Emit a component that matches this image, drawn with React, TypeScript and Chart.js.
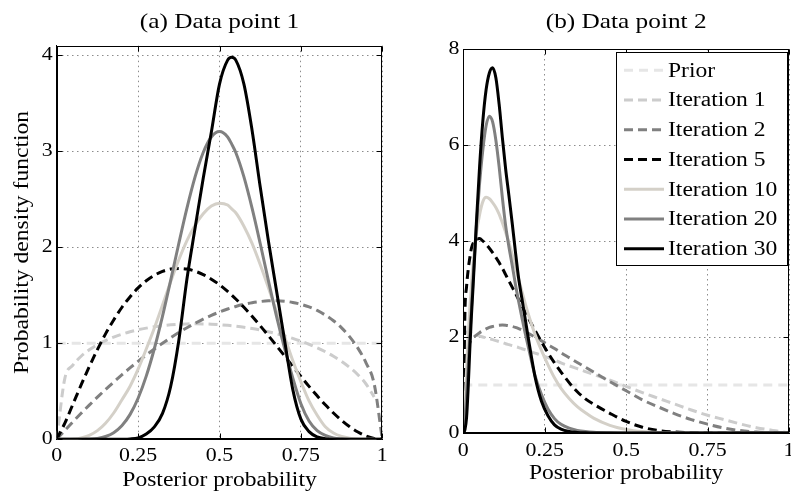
import React, { useEffect, useRef } from 'react';
import { Chart, registerables } from 'chart.js';

Chart.register(...registerables);

const FONT = "'Liberation Serif', 'Times New Roman', Times, serif";
const TEXT_STRETCH = 1.15;

// ---------------- data ----------------
const seriesNames = ['Prior', 'Iteration 1', 'Iteration 2', 'Iteration 5', 'Iteration 10', 'Iteration 20', 'Iteration 30'];
const seriesColors = ['#e6e6e6', '#cccccc', '#808080', '#000000', '#d4d0c8', '#808080', '#000000'];
const seriesDashed = [true, true, true, true, false, false, false];

const xTicks = [0, 0.25, 0.5, 0.75, 1];
const yTicksA = [0, 1, 2, 3, 4];
const yTicksB = [0, 2, 4, 6, 8];
const yMaxA = 4.1;
const yMaxB = 8;

// (a) Data point 1
const xA = [0, 0.025, 0.05, 0.075, 0.1, 0.125, 0.15, 0.175, 0.2, 0.225, 0.25, 0.275, 0.3, 0.325, 0.35, 0.375, 0.4, 0.425, 0.45, 0.475, 0.5, 0.525, 0.5375, 0.55, 0.575, 0.6, 0.625, 0.65, 0.675, 0.7, 0.725, 0.75, 0.775, 0.8, 0.825, 0.85, 0.875, 0.9, 0.925, 0.95, 0.975, 1];
const priorA = [1, 1, 1, 1, 1, 1, 1, 1, 1, 1, 1, 1, 1, 1, 1, 1, 1, 1, 1, 1, 1, 1, 1, 1, 1, 1, 1, 1, 1, 1, 1, 1, 1, 1, 1, 1, 1, 1, 1, 1, 1, 1];
const it1A = [0, 0.635, 0.774, 0.865, 0.932, 0.986, 1.029, 1.065, 1.095, 1.12, 1.141, 1.158, 1.172, 1.184, 1.192, 1.198, 1.202, 1.203, 1.202, 1.199, 1.194, 1.187, 1.183, 1.178, 1.167, 1.154, 1.138, 1.12, 1.1, 1.077, 1.051, 1.022, 0.99, 0.953, 0.912, 0.865, 0.811, 0.748, 0.673, 0.576, 0.44, null];
const it2A = [0, 0.093, 0.183, 0.271, 0.356, 0.439, 0.519, 0.596, 0.671, 0.743, 0.812, 0.878, 0.941, 1.001, 1.058, 1.112, 1.162, 1.209, 1.252, 1.291, 1.326, 1.357, 1.371, 1.384, 1.406, 1.423, 1.435, 1.442, 1.443, 1.438, 1.426, 1.406, 1.379, 1.342, 1.294, 1.235, 1.16, 1.067, 0.95, 0.797, 0.578, 0];
const it5A = [0, 0.168, 0.367, 0.566, 0.756, 0.934, 1.098, 1.243, 1.373, 1.483, 1.577, 1.652, 1.709, 1.749, 1.773, 1.78, 1.773, 1.751, 1.716, 1.668, 1.61, 1.54, 1.502, 1.462, 1.375, 1.282, 1.183, 1.08, 0.975, 0.868, 0.76, 0.654, 0.551, 0.453, 0.359, 0.274, 0.197, 0.13, 0.076, 0.035, 0.009, 0];
const it10A = [0, 0.0002, 0.003, 0.015, 0.041, 0.09, 0.167, 0.274, 0.41, 0.55, 0.73, 0.94, 1.16, 1.4, 1.64, 1.87, 2.07, 2.23, 2.35, 2.43, 2.46, 2.44, 2.4, 2.36, 2.22, 2.04, 1.82, 1.58, 1.33, 1.07, 0.82, 0.6, 0.4, 0.25, 0.13, 0.065, 0.03, 0.012, 0.004, 0.001, 0, 0];
const it20A = [0, 0, 0, 0.0004, 0.0025, 0.0098, 0.029, 0.069, 0.141, 0.257, 0.428, 0.658, 0.946, 1.284, 1.656, 2.04, 2.408, 2.733, 2.987, 3.149, 3.205, 3.149, 3.075, 2.987, 2.733, 2.408, 2.04, 1.656, 1.284, 0.946, 0.64, 0.37, 0.19, 0.09, 0.04, 0.015, 0.005, 0.001, 0, 0, 0, 0];
const it30A = [0, 0, 0, 0, 0, 0, 0, 0, 0.001, 0.004, 0.015, 0.055, 0.13, 0.27, 0.55, 1.03, 1.67, 2.2, 2.72, 3.2, 3.7, 3.95, 3.98, 3.95, 3.7, 3.22, 2.63, 2.07, 1.55, 1.03, 0.52, 0.21, 0.08, 0.025, 0.006, 0, 0, 0, 0, 0, 0, 0];

// (b) Data point 2
const xB = [0, 0.005, 0.01, 0.015, 0.02, 0.025, 0.03, 0.04, 0.05, 0.06, 0.07, 0.08, 0.09, 0.1, 0.11, 0.12, 0.13, 0.14, 0.15, 0.16, 0.17, 0.18, 0.19, 0.2, 0.22, 0.24, 0.26, 0.28, 0.3, 0.325, 0.35, 0.375, 0.4, 0.45, 0.5, 0.55, 0.6, 0.65, 0.7, 0.75, 0.8, 0.85, 0.9, 0.95, 1];
const priorB = [1, 1, 1, 1, 1, 1, 1, 1, 1, 1, 1, 1, 1, 1, 1, 1, 1, 1, 1, 1, 1, 1, 1, 1, 1, 1, 1, 1, 1, 1, 1, 1, 1, 1, 1, 1, 1, 1, 1, 1, 1, 1, 1, 1, 1];
const it1B = [2.12, 2.11, 2.1, 2.09, 2.08, 2.07, 2.06, 2.04, 2.02, 2.0, 1.985, 1.965, 1.945, 1.925, 1.905, 1.885, 1.86, 1.84, 1.82, 1.8, 1.78, 1.755, 1.735, 1.71, 1.665, 1.62, 1.57, 1.52, 1.46, 1.4, 1.34, 1.28, 1.22, 1.1, 0.97, 0.84, 0.72, 0.6, 0.48, 0.37, 0.28, 0.19, 0.11, 0.055, 0];
const it2B = [0, 1.35, 1.62, 1.78, 1.88, 1.94, 1.98, 2.04, 2.09, 2.13, 2.17, 2.2, 2.22, 2.235, 2.245, 2.25, 2.245, 2.235, 2.22, 2.2, 2.175, 2.145, 2.11, 2.075, 2.0, 1.92, 1.84, 1.76, 1.67, 1.57, 1.47, 1.37, 1.27, 1.07, 0.88, 0.69, 0.54, 0.4, 0.28, 0.185, 0.105, 0.05, 0.02, 0.005, 0];
const it5B = [0, 2.5, 3.05, 3.4, 3.65, 3.85, 3.95, 4.04, 4.05, 4.0, 3.93, 3.85, 3.76, 3.66, 3.55, 3.43, 3.3, 3.17, 3.04, 2.91, 2.78, 2.65, 2.52, 2.39, 2.14, 1.9, 1.67, 1.46, 1.27, 1.05, 0.86, 0.71, 0.6, 0.41, 0.24, 0.12, 0.05, 0.02, 0.005, 0, 0, 0, 0, 0, 0];
const it10B = [0, 0.6, 1.3, 2.0, 2.6, 3.1, 3.5, 4.15, 4.55, 4.82, 4.91, 4.88, 4.8, 4.7, 4.56, 4.38, 4.18, 3.97, 3.72, 3.46, 3.2, 2.95, 2.7, 2.47, 2.06, 1.72, 1.42, 1.15, 0.93, 0.72, 0.55, 0.42, 0.31, 0.16, 0.075, 0.03, 0.01, 0.003, 0, 0, 0, 0, 0, 0, 0];
const it20B = [0, 0.3, 0.8, 1.4, 2.0, 2.6, 3.2, 4.3, 5.2, 5.9, 6.4, 6.6, 6.48, 6.1, 5.55, 4.9, 4.32, 3.88, 3.5, 3.1, 2.74, 2.4, 2.08, 1.78, 1.2, 0.8, 0.5, 0.3, 0.18, 0.1, 0.055, 0.03, 0.015, 0.004, 0, 0, 0, 0, 0, 0, 0, 0, 0, 0, 0];
const it30B = [0, 0.07, 0.32, 0.95, 1.75, 2.45, 3.05, 4.35, 5.55, 6.5, 7.15, 7.5, 7.61, 7.4, 6.85, 6.15, 5.5, 4.95, 4.38, 3.78, 3.22, 2.8, 2.38, 1.96, 1.18, 0.66, 0.36, 0.17, 0.08, 0.03, 0.012, 0.004, 0, 0, 0, 0, 0, 0, 0, 0, 0, 0, 0, 0, 0];

// ---------------- helpers ----------------
function stretchText(ctx: any, sx: number) {
  if (ctx.__stretched) return;
  ctx.__stretched = true;
  const orig = ctx.fillText;
  ctx.fillText = function (text: string, x: number, y: number, maxWidth?: number) {
    this.save();
    this.translate(x, y);
    this.scale(sx, 1);
    if (maxWidth === undefined || maxWidth === null) orig.call(this, text, 0, 0);
    else orig.call(this, text, 0, 0, maxWidth / sx);
    this.restore();
  };
}

function buildDatasets(xs: number[], ys: (number | null)[][]) {
  return seriesNames.map((name, i) => ({
    label: name,
    data: xs.map((x, j) => ({ x, y: ys[i][j] })),
    borderColor: seriesColors[i],
    backgroundColor: seriesColors[i],
    borderWidth: 3,
    borderDash: seriesDashed[i] ? (i === 0 ? [9, 6] : [9, 5]) : [],
    pointRadius: 0,
    fill: false,
    spanGaps: false,
    cubicInterpolationMode: 'monotone',
    order: seriesNames.length - 1 - i,
  }));
}

const boxPlugin = {
  id: 'matlabBox',
  afterDatasetsDraw(chart: any) {
    const { ctx, chartArea, scales } = chart;
    const L = Math.round(chartArea.left) + 0.5;
    const R = Math.round(chartArea.right) - 0.5;
    const T = Math.round(chartArea.top) + 0.5;
    const B = Math.round(chartArea.bottom) - 0.5;
    const tl = 5;
    ctx.save();
    ctx.setLineDash([]);
    ctx.strokeStyle = '#000';
    ctx.lineWidth = 1;
    ctx.strokeRect(L, T, R - L, B - T);
    ctx.beginPath();
    scales.x.ticks.forEach((t: any) => {
      const px = Math.round(scales.x.getPixelForValue(t.value)) + 0.5;
      ctx.moveTo(px, B); ctx.lineTo(px, B - tl);
      ctx.moveTo(px, T); ctx.lineTo(px, T + tl);
    });
    scales.y.ticks.forEach((t: any) => {
      const py = Math.round(scales.y.getPixelForValue(t.value)) + 0.5;
      ctx.moveTo(L, py); ctx.lineTo(L + tl, py);
      ctx.moveTo(R, py); ctx.lineTo(R - tl, py);
    });
    ctx.stroke();
    ctx.restore();
  },
};

const insideLegendPlugin = {
  id: 'insideLegend',
  afterDraw(chart: any, _args: any, opts: any) {
    if (!opts || !opts.show) return;
    const { ctx } = chart;
    ctx.save();
    ctx.setLineDash([]);
    ctx.fillStyle = '#ffffff';
    ctx.fillRect(opts.x, opts.y, opts.w, opts.h);
    ctx.strokeStyle = '#000';
    ctx.lineWidth = 1;
    ctx.strokeRect(Math.round(opts.x) + 0.5, Math.round(opts.y) + 0.5, Math.round(opts.w), Math.round(opts.h));
    chart.data.datasets.forEach((ds: any, i: number) => {
      const cy = opts.firstY + i * opts.stepY;
      ctx.beginPath();
      ctx.setLineDash(ds.borderDash || []);
      ctx.strokeStyle = ds.borderColor;
      ctx.lineWidth = ds.borderWidth;
      ctx.moveTo(opts.lineX0, cy);
      ctx.lineTo(opts.lineX1, cy);
      ctx.stroke();
      ctx.setLineDash([]);
      ctx.fillStyle = '#000';
      ctx.font = `${opts.fontSize}px ${FONT}`;
      ctx.textAlign = 'left';
      ctx.textBaseline = 'middle';
      ctx.fillText(ds.label, opts.textX, cy + 1);
    });
    ctx.restore();
  },
};

interface PanelSpec {
  title: string;
  xs: number[];
  ys: (number | null)[][];
  yMax: number;
  yTicks: number[];
  yTitle: string | null;
  padRight: number;
  yAxisWidth: number;
  xAxisHeight: number;
  titlePadBottom: number;
  xTickPad: number;
  xTitlePadBottom: number;
  legend: any;
}

function makeConfig(p: PanelSpec): any {
  const tickFont = { family: FONT, size: 19, lineHeight: 1.2 };
  const labelFont = { family: FONT, size: 20.5, lineHeight: 1.2 };
  const grid = { color: '#8c8c8c', lineWidth: 1, drawTicks: false, drawOnChartArea: true };
  const border = { display: true, color: '#000', width: 1, dash: [1.5, 3.5] };
  return {
    type: 'line',
    data: { datasets: buildDatasets(p.xs, p.ys) },
    plugins: [boxPlugin, insideLegendPlugin],
    options: {
      responsive: false,
      animation: false,
      devicePixelRatio: 1,
      events: [],
      layout: { padding: { left: 0, right: p.padRight, top: 0, bottom: 0 } },
      elements: { point: { radius: 0 } },
      plugins: {
        legend: { display: false },
        tooltip: { enabled: false },
        title: {
          display: true,
          text: p.title,
          fullSize: false,
          color: '#000',
          font: { family: FONT, size: 22, weight: 'normal', lineHeight: 1.2 },
          padding: { top: 9.2, bottom: p.titlePadBottom },
        },
        insideLegend: p.legend,
      },
      scales: {
        x: {
          type: 'linear',
          min: 0,
          max: 1,
          afterBuildTicks: (s: any) => { s.ticks = xTicks.map((v) => ({ value: v })); },
          afterFit: (s: any) => { s.height = p.xAxisHeight; s.paddingLeft = 0; s.paddingRight = 0; },
          grid,
          border,
          ticks: {
            padding: p.xTickPad,
            font: tickFont,
            color: '#000',
            autoSkip: false,
            maxRotation: 0,
            minRotation: 0,
            callback: (v: any) => String(v),
          },
          title: {
            display: true,
            text: 'Posterior probability',
            color: '#000',
            font: labelFont,
            padding: { top: 0, bottom: p.xTitlePadBottom },
          },
        },
        y: {
          type: 'linear',
          min: 0,
          max: p.yMax,
          afterBuildTicks: (s: any) => { s.ticks = p.yTicks.map((v) => ({ value: v })); },
          afterFit: (s: any) => { s.width = p.yAxisWidth; },
          grid,
          border,
          ticks: {
            padding: 4,
            font: tickFont,
            color: '#000',
            callback: (v: any) => String(v),
          },
          title: {
            display: !!p.yTitle,
            text: p.yTitle || '',
            color: '#000',
            font: labelFont,
            padding: { top: 10.7, bottom: 0 },
          },
        },
      },
    },
  };
}

const panelA: PanelSpec = {
  title: '(a) Data point 1',
  xs: xA,
  ys: [priorA, it1A, it2A, it5A, it10A, it20A, it30A],
  yMax: yMaxA,
  yTicks: yTicksA,
  yTitle: 'Probability density function',
  padRight: 17.7,
  yAxisWidth: 56.7,
  xAxisHeight: 52.7,
  titlePadBottom: 10.1,
  xTickPad: 5.8,
  xTitlePadBottom: -1,
  legend: { show: false },
};

const panelB: PanelSpec = {
  title: '(b) Data point 2',
  xs: xB,
  ys: [priorB, it1B, it2B, it5B, it10B, it20B, it30B],
  yMax: yMaxB,
  yTicks: yTicksB,
  yTitle: null,
  padRight: 2,
  yAxisWidth: 63.3,
  xAxisHeight: 59,
  titlePadBottom: 13.4,
  xTickPad: 7.1,
  xTitlePadBottom: 5.7,
  legend: {
    show: true,
    x: 216,
    y: 52,
    w: 171,
    h: 213,
    lineX0: 224,
    lineX1: 264,
    textX: 268,
    firstY: 70.3,
    stepY: 29.75,
    fontSize: 20.5,
  },
};

function Panel({ spec, left, width }: { spec: PanelSpec; left: number; width: number }) {
  const ref = useRef<HTMLCanvasElement | null>(null);
  useEffect(() => {
    const canvas = ref.current;
    if (!canvas) return;
    const ctx = canvas.getContext('2d');
    stretchText(ctx, TEXT_STRETCH);
    const chart = new Chart(ctx as any, makeConfig(spec));
    return () => chart.destroy();
  }, [spec]);
  return (
    <canvas
      ref={ref}
      width={width}
      height={492}
      style={{ position: 'absolute', left, top: 0, width, height: 492 }}
    />
  );
}

export default function App() {
  return (
    <div style={{ position: 'absolute', left: 0, top: 0, width: 791, height: 492, background: '#fff', overflow: 'hidden' }}>
      <Panel spec={panelA} left={0} width={400} />
      <Panel spec={panelB} left={400} width={391} />
    </div>
  );
}
